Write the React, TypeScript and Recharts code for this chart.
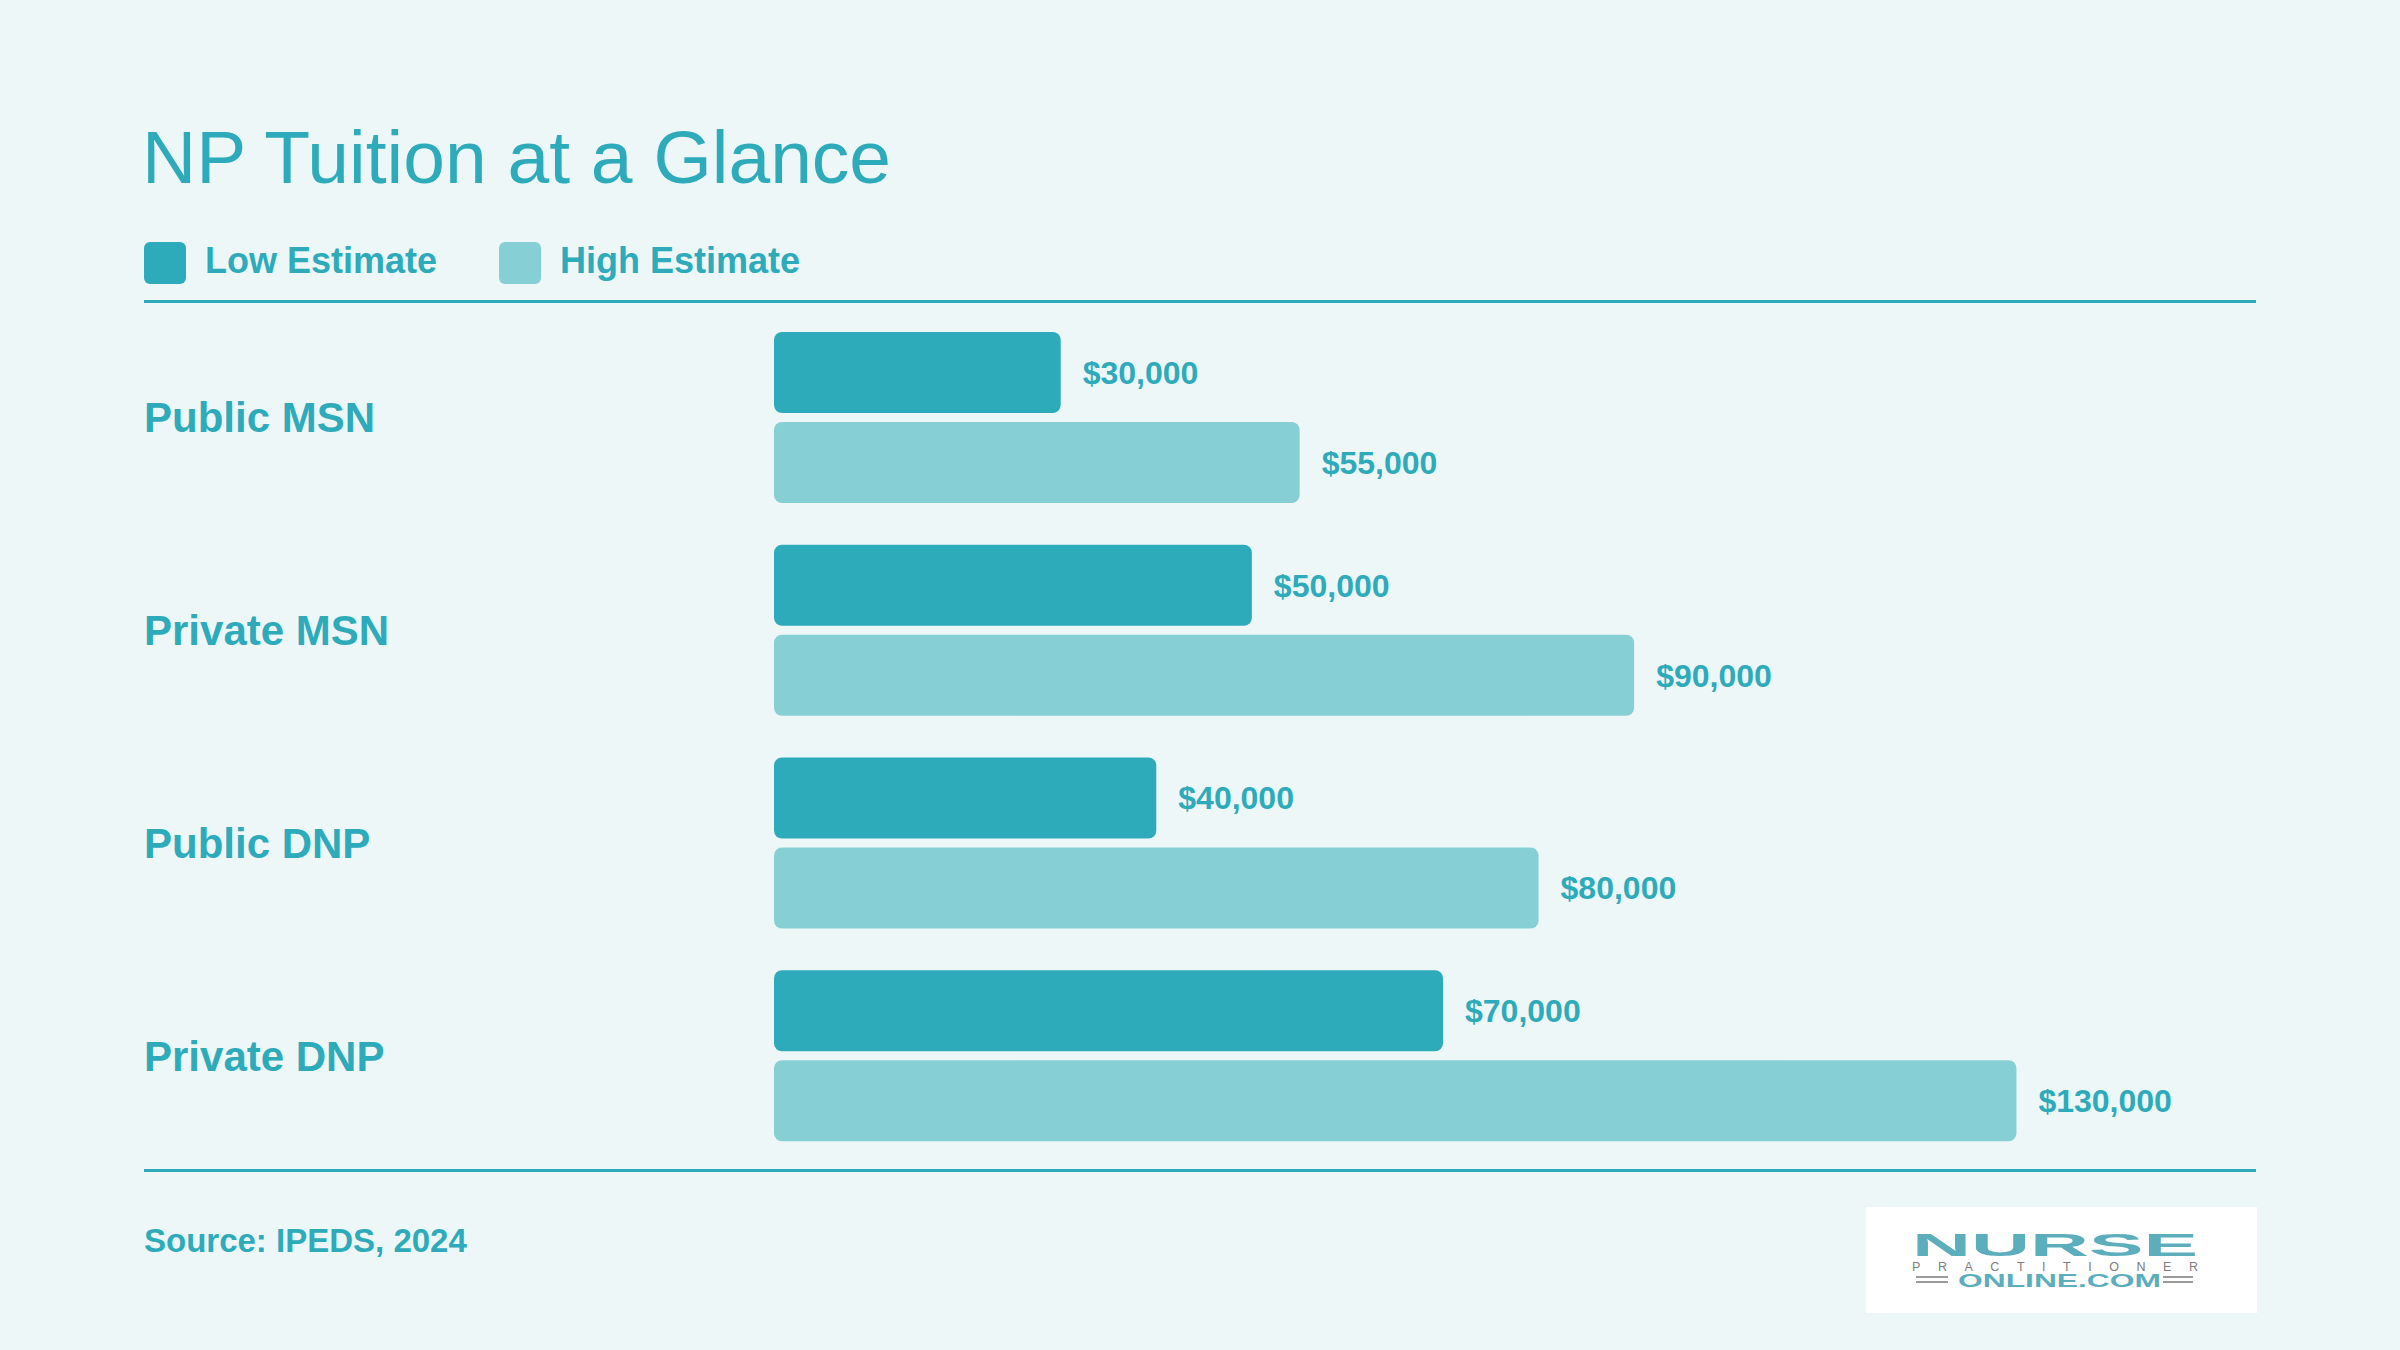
import { BarChart, Bar, XAxis, YAxis, LabelList, Legend } from "recharts";

const programs = ["Public MSN", "Private MSN", "Public DNP", "Private DNP"];
const lowEstimate = [30000, 50000, 40000, 70000];
const highEstimate = [55000, 90000, 80000, 130000];
const seriesNames = ["Low Estimate", "High Estimate"];

const data = programs.map((name, i) => ({
  name,
  low: lowEstimate[i],
  high: highEstimate[i],
}));

const TEAL = "#2eabba";
const LIGHT = "#86cfd5";
const BG = "#eef7f8";
const FONT = '"Liberation Sans", Arial, Helvetica, sans-serif';
const LOGO = "#5caebd";

const money = (v: any) => "$" + Number(v).toLocaleString("en-US");

const renderTick = (props: any) => {
  const { y, payload } = props;
  return (
    <text
      x={144}
      y={y}
      dy={15}
      textAnchor="start"
      fill={TEAL}
      fontSize={42}
      fontWeight={700}
      fontFamily={FONT}
    >
      {payload.value}
    </text>
  );
};

// legend drawn as html, sits above the plot
const renderLegend = () => {
  const colors = [TEAL, LIGHT];
  return (
    <div
      style={{
        display: "flex",
        alignItems: "center",
        fontFamily: FONT,
        height: 42,
      }}
    >
      {seriesNames.map((s, i) => (
        <div
          key={s}
          style={{
            display: "flex",
            alignItems: "center",
            width: i === 0 ? 355 : "auto",
          }}
        >
          <div
            style={{
              width: 42,
              height: 42,
              borderRadius: 6,
              background: colors[i],
              marginRight: 19,
            }}
          />
          <span
            style={{
              color: TEAL,
              fontSize: 36,
              fontWeight: 700,
              lineHeight: "42px",
              position: "relative",
              top: -2,
            }}
          >
            {s}
          </span>
        </div>
      ))}
    </div>
  );
};

export default function App() {
  return (
    <div
      style={{
        position: "absolute",
        left: 0,
        top: 0,
        width: 2400,
        height: 1350,
        background: BG,
        overflow: "hidden",
      }}
    >
      <svg
        width={2400}
        height={1350}
        style={{ position: "absolute", left: 0, top: 0 }}
      >
        <text x={142} y={183} fill={TEAL} fontSize={75} fontFamily={FONT}>
          NP Tuition at a Glance
        </text>
        <rect x={144} y={300} width={2112} height={3} fill={TEAL} />
        <rect x={144} y={1169} width={2112} height={3} fill={TEAL} />
        <text
          x={144}
          y={1252}
          fill={TEAL}
          fontSize={33}
          fontWeight={700}
          fontFamily={FONT}
        >
          Source: IPEDS, 2024
        </text>
        {/* logo */}
        <rect x={1866} y={1207} width={391} height={106} fill="#ffffff" />
        <text
          x={1912}
          y={1256}
          fill={LOGO}
          fontSize={31}
          fontWeight={900}
          fontFamily={FONT}
          textLength={286}
          lengthAdjust="spacingAndGlyphs"
        >
          NURSE
        </text>
        <text
          x={1912}
          y={1271}
          fill="#7d7d7d"
          fontSize={12.5}
          fontFamily={FONT}
          textLength={286}
          lengthAdjust="spacing"
        >
          PRACTITIONER
        </text>
        <text
          x={1958}
          y={1287}
          fill={LOGO}
          fontSize={18}
          fontWeight={700}
          fontFamily={FONT}
          textLength={203}
          lengthAdjust="spacingAndGlyphs"
        >
          ONLINE.COM
        </text>
        <rect x={1916} y={1276} width={32} height={2} fill="#9a9a9a" />
        <rect x={1916} y={1281} width={32} height={2} fill="#9a9a9a" />
        <rect x={2163} y={1276} width={30} height={2} fill="#9a9a9a" />
        <rect x={2163} y={1281} width={30} height={2} fill="#9a9a9a" />
      </svg>
      <div style={{ position: "absolute", left: 0, top: 0 }}>
        <BarChart
          width={2400}
          height={1350}
          data={data}
          layout="vertical"
          margin={{ top: 311, right: 288, bottom: 146, left: 144 }}
          barGap={9}
        >
          <XAxis type="number" domain={[0, 140000]} hide />
          <YAxis
            type="category"
            dataKey="name"
            width={630}
            axisLine={false}
            tickLine={false}
            tick={renderTick}
          />
          <Legend
            content={renderLegend}
            wrapperStyle={{ top: 242, left: 144, width: "auto", bottom: "auto" }}
          />
          <Bar
            dataKey="low"
            name={seriesNames[0]}
            fill={TEAL}
            barSize={81}
            radius={8}
            isAnimationActive={false}
          >
            <LabelList
              dataKey="low"
              position="right"
              offset={22}
              formatter={money}
              fill={TEAL}
              fontSize={32}
              fontWeight={700}
              fontFamily={FONT}
            />
          </Bar>
          <Bar
            dataKey="high"
            name={seriesNames[1]}
            fill={LIGHT}
            barSize={81}
            radius={8}
            isAnimationActive={false}
          >
            <LabelList
              dataKey="high"
              position="right"
              offset={22}
              formatter={money}
              fill={TEAL}
              fontSize={32}
              fontWeight={700}
              fontFamily={FONT}
            />
          </Bar>
        </BarChart>
      </div>
    </div>
  );
}
